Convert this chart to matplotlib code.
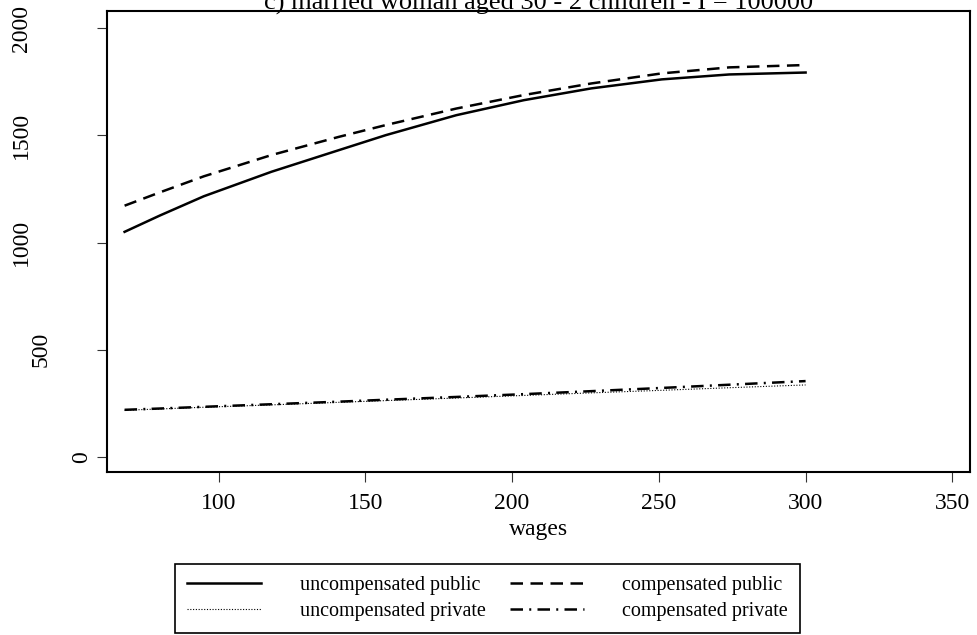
import matplotlib
matplotlib.use("Agg")
import matplotlib.pyplot as plt

plt.rcParams['font.family'] = ['Liberation Serif', 'DejaVu Serif']
plt.rcParams['font.size'] = 17

# wages grid and the four curves
wages = [68, 80, 95, 118, 141, 157, 181, 204, 227, 251, 274, 300]
uncomp_public = [1050, 1126, 1216, 1330, 1431, 1501, 1594, 1664, 1719, 1761, 1784, 1793]
comp_public = [1172, 1234, 1309, 1408, 1493, 1548, 1625, 1688, 1742, 1789, 1817, 1828]
uncomp_private = [218, 224, 232, 243, 255, 263, 275, 287, 299, 311, 323, 336]
comp_private = [220, 226, 234, 246, 258, 267, 280, 293, 307, 322, 337, 354]

title = "c) married woman aged 30 - 2 children - I = 100000"
xticks = [100, 150, 200, 250, 300, 350]
yticks = [0, 500, 1000, 1500, 2000]

fig = plt.figure(figsize=(9.77, 6.35), dpi=100)
ax = fig.add_axes([0.1095, 0.2567, 0.8833, 0.726])

ax.plot(wages, uncomp_public, color='black', lw=1.8, label='uncompensated public')
ax.plot(wages, comp_public, color='black', lw=1.8, linestyle=(0, (5, 3)), label='compensated public')
ax.plot(wages, uncomp_private, color='black', lw=0.8, linestyle=(0, (1, 1.5)), label='uncompensated private')
ax.plot(wages, comp_private, color='black', lw=1.8, linestyle=(0, (5, 2.5, 0.8, 2.5)), label='compensated private')

ax.set_xlim(62, 356)
ax.set_ylim(-70, 2080)
ax.set_xticks(xticks)
ax.set_yticks(yticks)
ax.set_yticklabels([])
ax.tick_params(axis='both', length=7, width=0.8, direction='out', color='#333333')
ax.tick_params(axis='x', pad=8)
# stata puts the rotated y labels further out the longer they are
for v in yticks:
    s = str(v)
    ax.annotate(s, xy=(0, v), xycoords=('axes fraction', 'data'),
                xytext=(-15 - 20 * (len(s) - 1), 0), textcoords='offset pixels',
                rotation=90, ha='right', va='center')
ax.set_xlabel('wages', labelpad=4)
for s in ax.spines.values():
    s.set_linewidth(1.5)

fig.text(0.551, 0.985, title, ha='center', va='baseline', fontsize=19)

h, l = ax.get_legend_handles_labels()
order = [0, 2, 1, 3]
leg = fig.legend([h[i] for i in order], [l[i] for i in order], ncol=2,
                 loc='lower left', bbox_to_anchor=(0.179, 0.003, 0.64, 0.112),
                 mode='expand', fancybox=False, edgecolor='black', fontsize=14.5,
                 handlelength=3.7, handletextpad=1.9, borderaxespad=0, framealpha=1,
                 labelspacing=0.35, borderpad=0.6)
leg.get_frame().set_linewidth(1.2)

fig.savefig('out.png', dpi=100)
